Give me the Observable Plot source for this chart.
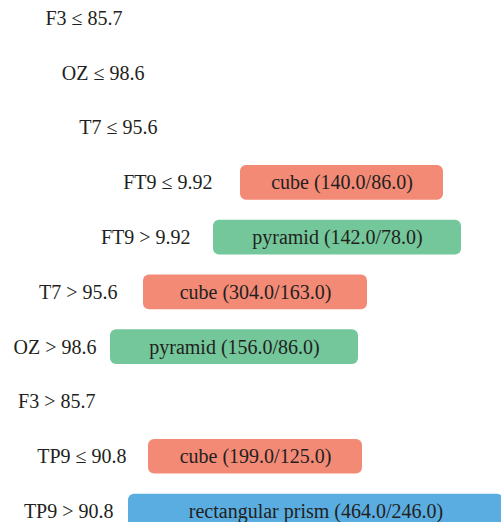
<!DOCTYPE html>
<html>
<head>
<meta charset="utf-8">
<script src="https://cdn.jsdelivr.net/npm/d3@7"></script>
<script src="https://cdn.jsdelivr.net/npm/@observablehq/plot@0.6"></script>
<style>
  html, body { margin: 0; padding: 0; background: #fff; }
  #chart svg { display: block; }
  svg text, svg g, svg { font-family: "Liberation Serif", serif !important; }
</style>
</head>
<body>
<div id="chart"></div>
<script>
// Decision tree rows (top to bottom)
const conditions = ["F3 ≤ 85.7", "OZ ≤ 98.6", "T7 ≤ 95.6", "FT9 ≤ 9.92", "FT9 > 9.92",
                    "T7 > 95.6", "OZ > 98.6", "F3 > 85.7", "TP9 ≤ 90.8", "TP9 > 90.8"];
// where each condition label ends (tree indentation), in chart x units
const conditionEnd = [122, 144, 157, 212, 190, 117, 96, 95, 126, 113];
// leaf class and counts (null = internal node)
const leafClass = [null, null, null, "cube", "pyramid", "cube", "pyramid", null, "cube", "rectangular prism"];
const leafCounts = [null, null, null, "140.0/86.0", "142.0/78.0", "304.0/163.0", "156.0/86.0", null, "199.0/125.0", "464.0/246.0"];
// leaf box extents in chart x units
const leafStart = [null, null, null, 240, 213, 143, 110, null, 148, 128];
const leafEnd   = [null, null, null, 443, 461, 367, 358, null, 362, 503];

const classColors = {cube: "#f38a76", pyramid: "#73c79a", "rectangular prism": "#59ade1"};

const rows = conditions.map((c, i) => ({
  i, cond: c, end: conditionEnd[i],
  cls: leafClass[i], counts: leafCounts[i],
  x1: leafStart[i], x2: leafEnd[i]
}));
const leaves = rows.filter(d => d.cls);
const half = 0.316;
const serif = "'Liberation Serif', serif";

const chart = Plot.plot({
  width: 501,
  height: 522,
  marginTop: 0, marginBottom: 0, marginLeft: 0, marginRight: 0,
  style: {fontFamily: serif, fontSize: "20px", background: "#fff"},
  x: {domain: [0, 501], range: [0, 501], axis: null},
  y: {domain: [0, 9], range: [18, 511], axis: null},
  marks: [
    Plot.rect(leaves, {
      x1: "x1", x2: "x2",
      y1: d => d.i - half, y2: d => d.i + half,
      fill: d => classColors[d.cls], rx: 6
    }),
    Plot.text(leaves, {
      x: d => (d.x1 + d.x2) / 2, y: "i",
      text: d => `${d.cls} (${d.counts})`,
      fill: "#231f20", fontSize: 20, fontFamily: serif, textAnchor: "middle"
    }),
    Plot.text(rows, {
      x: "end", y: "i", text: "cond",
      fill: "#231f20", fontSize: 20, fontFamily: serif, textAnchor: "end"
    })
  ]
});
d3.select(chart).selectAll("text, g")
  .attr("font-family", serif)
  .style("font-family", serif, "important");
document.getElementById("chart").append(chart);
</script>
</body>
</html>
